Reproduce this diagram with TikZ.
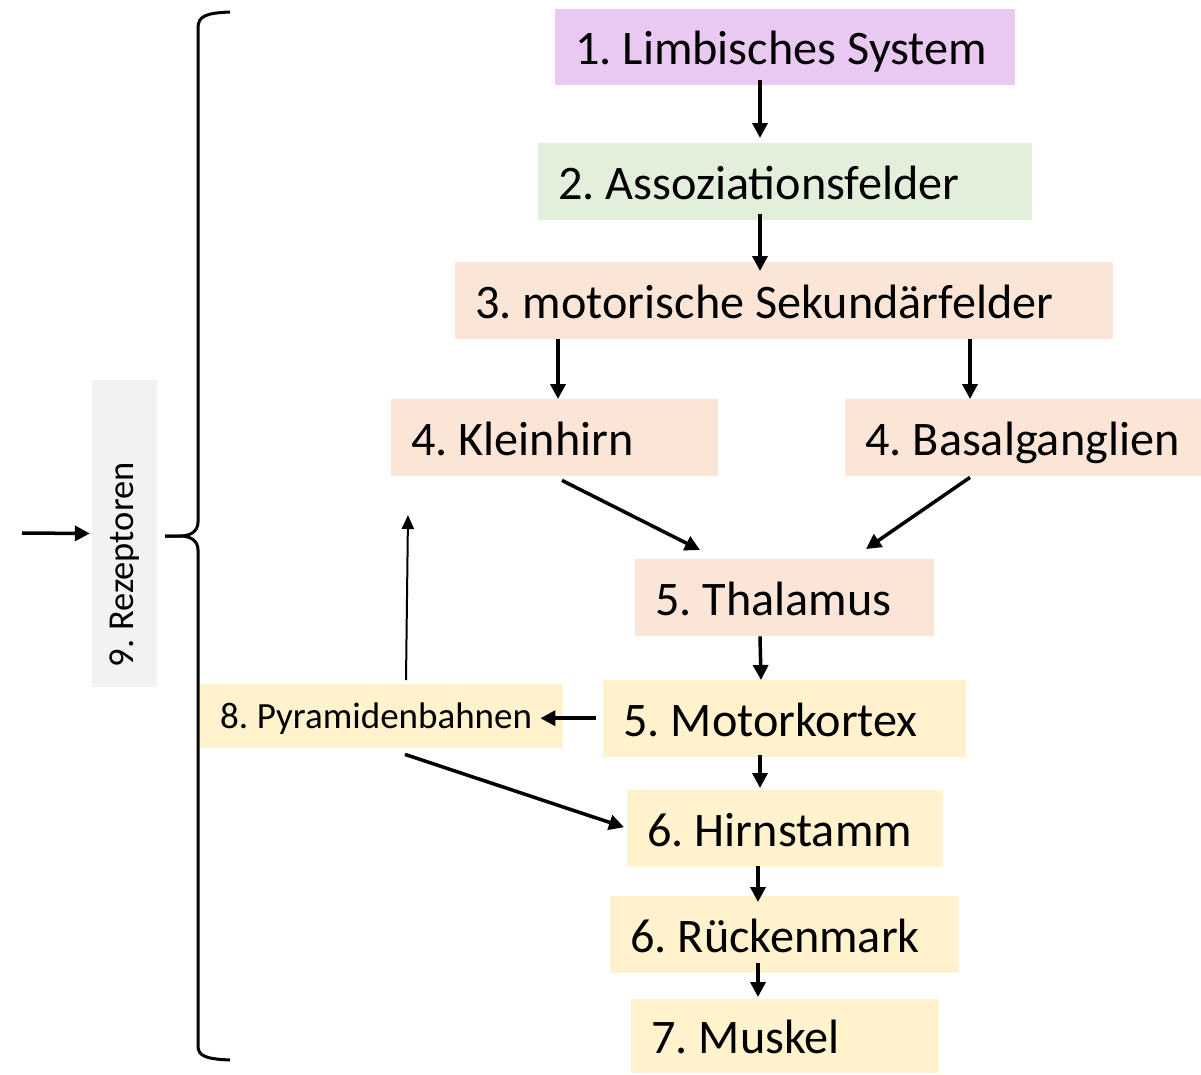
\documentclass[tikz,border=0pt]{standalone}
\usepackage{fontspec}
\setmainfont{Carlito}
\usetikzlibrary{arrows.meta}
\definecolor{cpurple}{HTML}{E9C8F1}
\definecolor{cgreen}{HTML}{E2EFDA}
\definecolor{cpeach}{HTML}{FBE5D6}
\definecolor{cyellow}{HTML}{FFF2CC}
\definecolor{cgray}{HTML}{F2F2F2}
\frenchspacing
\begin{document}
\begin{tikzpicture}[x=1pt,y=-1pt,
  every node/.style={execute at begin node={\spaceskip=0.23em\relax\xspaceskip=0.23em\relax}},
  box/.style={anchor=north west, inner xsep=20pt, inner ysep=0pt, minimum height=77pt,
    text height=40pt, text depth=5pt,
    align=left, font=\fontsize{48.2}{52}\selectfont},
  arr/.style={line width=3.5pt, -{Triangle[length=15pt,width=15pt]}},
  thinarr/.style={line width=2pt, -{Triangle[length=14pt,width=12pt]}},
  brace/.style={line width=3pt}]
\useasboundingbox (0,0) rectangle (1201,1074);

\node[box, fill=cpurple, text width=420pt, minimum height=76pt] (lim) at (555,9) {1. Limbisches System};
\node[box, fill=cgreen, text width=454pt] (ass) at (538,143) {2. Assoziationsfelder};
\node[box, fill=cpeach, text width=618pt] (sek) at (455,262) {3. motorische Sekundärfelder};
\node[box, fill=cpeach, text width=287pt] (klein) at (391,399) {4. Kleinhirn};
\node[box, fill=cpeach, text width=316pt] (basal) at (845,399) {4. Basalganglien};
\node[box, fill=cpeach, text width=259pt] (thal) at (635,559) {5. Thalamus};
\node[box, fill=cyellow, text width=323pt] (motor) at (603,680) {5. Motorkortex};
\node[box, fill=cyellow, text width=276pt] (hirn) at (627,790) {6. Hirnstamm};
\node[box, fill=cyellow, text width=309pt] (rueck) at (610,896) {6. Rückenmark};
\node[box, fill=cyellow, text width=268pt, minimum height=74pt] (musk) at (631,999) {7. Muskel};
\node[box, fill=cyellow, text width=323pt, minimum height=64pt, text height=28pt, text depth=4pt,
  font=\fontsize{37}{40}\selectfont] (pyr) at (200,684) {8. Pyramidenbahnen};
\node[fill=cgray, rotate=90, inner xsep=20pt, inner ysep=0pt, text width=267pt, minimum height=65pt,
  align=left, font=\fontsize{36.5}{40}\selectfont] (rez) at (124.5,533.5) {9. Rezeptoren};

\coordinate (ext) at (22,533);
\coordinate (up) at (408,515);

% brace
\draw[brace] (230,12) .. controls (206,13) and (198,16) .. (198,28) -- (198,522)
  .. controls (198,531) and (191,536) .. (180,536) -- (165,536);
\draw[brace] (165,536) -- (180,536) .. controls (191,536) and (198,541) .. (198,550)
  -- (198,1046) .. controls (198,1056) and (206,1059) .. (230,1060);

% arrows
\draw[arr] (ext) -- ([xshift=-2pt]rez.north);
\draw[arr] ([xshift=205pt,yshift=5pt]lim.south west) -- ([xshift=222pt,yshift=5pt]ass.north west);
\draw[arr] ([xshift=222pt,yshift=6pt]ass.south west) -- ([xshift=305pt,yshift=-9pt]sek.north west);
\draw[arr] ([xshift=103pt]sek.south west) -- ([xshift=167pt]klein.north west);
\draw[arr] ([xshift=515pt]sek.south west) -- ([xshift=125pt]basal.north west);
\draw[arr] ([xshift=171pt,yshift=-4pt]klein.south west) -- ([xshift=65pt,yshift=9pt]thal.north west);
\draw[arr] ([xshift=125pt,yshift=-1pt]basal.south west) -- ([xshift=231pt,yshift=10pt]thal.north west);
\draw[arr] ([xshift=125pt]thal.south west) -- ([xshift=158pt]motor.north west);
\draw[arr] ([xshift=-7pt,yshift=0.5pt]motor.west) -- ([xshift=-23pt,yshift=-2pt]pyr.east);
\draw[thinarr] ([xshift=206pt,yshift=4pt]pyr.north west) -- (up);
\draw[arr] ([xshift=205pt,yshift=-6pt]pyr.south west) -- ([xshift=-3pt,yshift=1.5pt]hirn.west);
\draw[arr] ([xshift=157pt,yshift=2pt]motor.south west) -- ([xshift=133pt,yshift=2pt]hirn.north west);
\draw[arr] ([xshift=131pt,yshift=1pt]hirn.south west) -- ([xshift=148pt,yshift=-6pt]rueck.north west);
\draw[arr] ([xshift=148pt,yshift=10pt]rueck.south west) -- ([xshift=127pt,yshift=2pt]musk.north west);
\end{tikzpicture}
\end{document}
